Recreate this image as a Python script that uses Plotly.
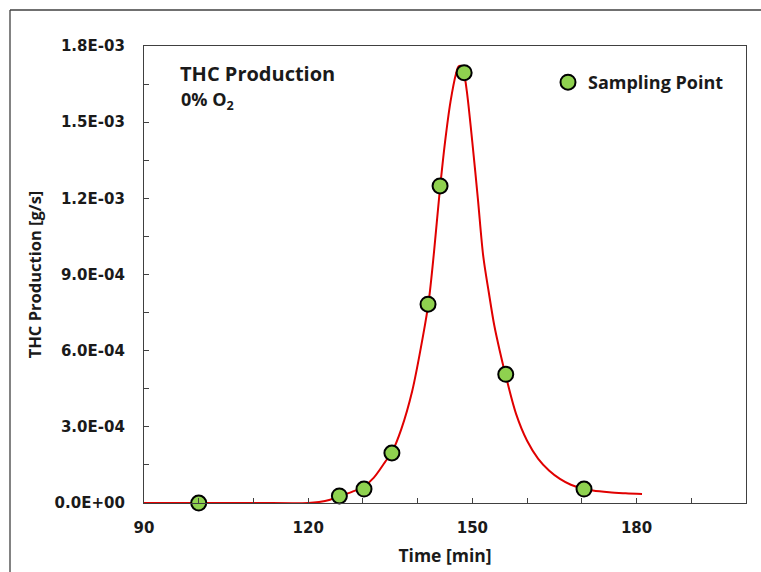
import plotly.graph_objects as go

# Sampling points
sample_time = [100, 125.7, 130.2, 135.3, 141.9, 144.1, 148.5, 156.1, 170.4]
sample_value = [0.0, 2.8e-5, 5.5e-5, 1.97e-4, 7.83e-4, 1.249e-3, 1.695e-3, 5.07e-4, 5.5e-5]

# Fitted curve
curve_time = [90, 100, 110, 120, 122, 124, 126, 128, 130, 132, 134, 135.3, 137, 139, 141,
              142, 143, 144, 145, 146, 147, 147.5, 148, 148.5, 149, 150, 151, 152, 153,
              154, 155, 156, 158, 160, 162, 164, 166, 168, 170, 172, 175, 178, 181]
curve_value = [0, 0, 0, 0, 4e-6, 1.3e-5, 2.9e-5, 4.4e-5, 6.2e-5, 1.0e-4, 1.6e-4, 2.0e-4,
               2.9e-4, 4.4e-4, 6.6e-4, 7.9e-4, 9.9e-4, 1.22e-3, 1.42e-3, 1.58e-3, 1.69e-3,
               1.72e-3, 1.72e-3, 1.69e-3, 1.62e-3, 1.42e-3, 1.20e-3, 9.7e-4, 8.3e-4,
               7.0e-4, 6.0e-4, 5.1e-4, 3.5e-4, 2.45e-4, 1.75e-4, 1.28e-4, 9.5e-5, 7.2e-5,
               5.8e-5, 4.9e-5, 4.2e-5, 3.8e-5, 3.5e-5]

x_tickvals = [90, 120, 150, 180]
x_ticktext = ["90", "120", "150", "180"]
y_tickvals = [0, 3e-4, 6e-4, 9e-4, 1.2e-3, 1.5e-3, 1.8e-3]
y_ticktext = ["0.0E+00", "3.0E-04", "6.0E-04", "9.0E-04", "1.2E-03", "1.5E-03", "1.8E-03"]

FONT = "Open Sans"
TICKFONT = "DejaVu Sans"
TXT = "#1a1a1a"
W, H = 761, 572
L, R, T, B = 144, 15, 46, 69
pw, ph = W - L - R, H - T - B

def px_x(p):
    return (p - L) / pw

def px_y(p):
    return (H - B - p) / ph

fig = go.Figure()
fig.add_trace(go.Scatter(
    x=curve_time, y=curve_value, mode="lines",
    line=dict(color="#E00000", width=2, shape="spline", smoothing=0.9),
    showlegend=False, hoverinfo="skip",
))
fig.add_trace(go.Scatter(
    x=sample_time, y=sample_value, mode="markers", name="<b>Sampling Point</b>",
    marker=dict(size=15, color="#8FD14F", line=dict(color="#000000", width=2)),
    cliponaxis=False,
))

axis_common = dict(
    showgrid=False, zeroline=False, showline=True, mirror=True,
    linecolor="#404040", linewidth=1.3,
    ticks="inside", ticklen=5, tickcolor="#404040",
    tickfont=dict(family=TICKFONT, size=15, color=TXT),
    automargin=False,
)

fig.update_xaxes(
    range=[90, 200], tickvals=x_tickvals, ticktext=["<b>%s</b>" % t for t in x_ticktext],
    minor=dict(dtick=10, tick0=90, ticks="inside", ticklen=5, tickcolor="#404040"),
    title=dict(text="<b>Time [min]</b>", font=dict(family=FONT, size=17.5, color=TXT), standoff=13),
    ticklabelstandoff=11,
    **axis_common,
)
fig.update_yaxes(
    range=[0, 1.8e-3], tickvals=y_tickvals, ticktext=["<b>%s</b>" % t for t in y_ticktext],
    minor=dict(dtick=1.5e-4, tick0=0, ticks="inside", ticklen=5, tickcolor="#404040"),
    title=dict(text="<b>THC Production [g/s]</b>", font=dict(family=FONT, size=16.5, color=TXT), standoff=8),
    ticklabelstandoff=15,
    **axis_common,
)

fig.add_annotation(x=px_x(178), y=px_y(73), xref="paper", yref="paper", xanchor="left", yanchor="middle",
                   text="<b>THC Production</b>", showarrow=False,
                   font=dict(family=FONT, size=20, color=TXT))
fig.add_annotation(x=px_x(179), y=px_y(101), xref="paper", yref="paper", xanchor="left", yanchor="middle",
                   text="<b>0% O<sub>2</sub></b>", showarrow=False,
                   font=dict(family=FONT, size=18, color=TXT))

# outer frame lines
fig.add_shape(type="line", xref="paper", yref="paper", x0=px_x(10), x1=px_x(761), y0=px_y(10), y1=px_y(10),
              line=dict(color="#404040", width=1.3))
fig.add_shape(type="line", xref="paper", yref="paper", x0=px_x(10), x1=px_x(10), y0=px_y(10), y1=px_y(572),
              line=dict(color="#404040", width=1.3))

fig.update_layout(
    width=W, height=H,
    margin=dict(l=L, r=R, t=T, b=B, autoexpand=False),
    paper_bgcolor="white", plot_bgcolor="white",
    showlegend=True,
    legend=dict(x=px_x(548), y=px_y(64), xanchor="left", yanchor="top",
                bgcolor="rgba(0,0,0,0)", font=dict(family=FONT, size=18, color=TXT),
                itemwidth=30),
)

fig.write_html("out.html")
